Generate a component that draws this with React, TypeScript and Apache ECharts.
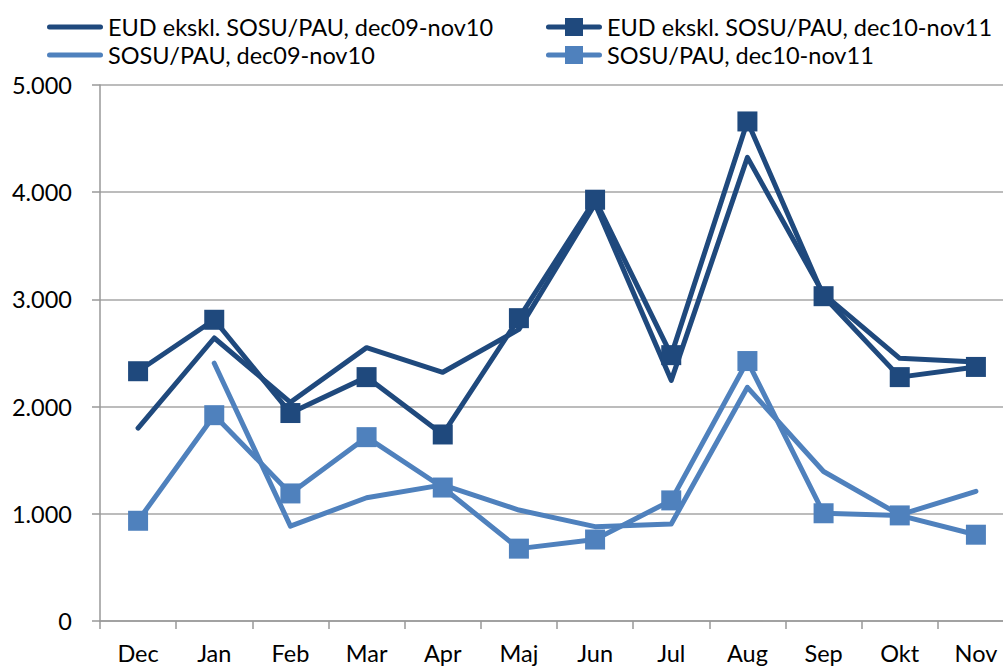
import React, { useEffect, useRef } from "react";
import * as echarts from "echarts";

const categories = ["Dec", "Jan", "Feb", "Mar", "Apr", "Maj", "Jun", "Jul", "Aug", "Sep", "Okt", "Nov"];
const seriesNames = [
  "EUD ekskl. SOSU/PAU, dec09-nov10",
  "EUD ekskl. SOSU/PAU, dec10-nov11",
  "SOSU/PAU, dec09-nov10",
  "SOSU/PAU, dec10-nov11",
];
const eud0910 = [1800, 2640, 2040, 2550, 2320, 2720, 3890, 2245, 4325, 3050, 2450, 2415];
const eud1011 = [2330, 2810, 1940, 2275, 1740, 2825, 3930, 2480, 4660, 3030, 2275, 2370];
const sosu0910: (number | string)[] = ["-", 2405, 885, 1150, 1270, 1035, 880, 905, 2180, 1395, 990, 1210];
const sosu1011 = [935, 1920, 1190, 1715, 1245, 675, 760, 1125, 2425, 1005, 985, 805];
const yMin = 0;
const yMax = 5000;
const yStep = 1000;

const DARK = "#1F497D";
const LIGHT = "#4F81BD";
const FONT = "Lato, 'Open Sans', sans-serif";

const LINE_ICON = "path://M2.5,0L53.5,0A2.5,2.5,0,0,1,53.5,5L2.5,5A2.5,2.5,0,0,1,2.5,0Z";
const MARK_ICON =
  "path://M2.5,6.5L19,6.5L19,0L37,0L37,6.5L53.5,6.5A2.5,2.5,0,0,1,53.5,11.5L37,11.5L37,18L19,18L19,11.5L2.5,11.5A2.5,2.5,0,0,1,2.5,6.5Z";

function fmt(v: number): string {
  return String(Math.round(v)).replace(/\B(?=(\d{3})+(?!\d))/g, ".");
}

export default function App() {
  const ref = useRef<HTMLDivElement>(null);
  useEffect(() => {
    if (!ref.current) return;
    const chart = echarts.init(ref.current, undefined, { renderer: "svg" });
    const textStyle = { fontFamily: FONT, fontSize: 23.5, color: "#000", lineHeight: 26 };
    const dataSets = [eud0910, eud1011, sosu0910, sosu1011];
    const colors = [DARK, DARK, LIGHT, LIGHT];
    const marks = [false, true, false, true];
    const lefts = [47, 546, 47, 546];
    const centers = [27, 27, 55, 55];
    chart.setOption({
      animation: false,
      backgroundColor: "#fff",
      textStyle: { fontFamily: FONT },
      legend: seriesNames.map((n, i) => ({
        left: lefts[i],
        top: centers[i] - 13,
        padding: 0,
        itemGap: 0,
        itemWidth: 56,
        itemHeight: marks[i] ? 18 : 5,
        textStyle,
        data: [{ name: n, icon: marks[i] ? MARK_ICON : LINE_ICON, itemStyle: { color: colors[i] } }],
      })),
      grid: { left: 100, top: 85, width: 914, height: 536, containLabel: false },
      xAxis: {
        type: "category",
        data: categories,
        boundaryGap: true,
        axisLine: { lineStyle: { color: "#999", width: 1.5 } },
        axisTick: { show: true, alignWithLabel: false, length: 8, lineStyle: { color: "#999", width: 1.5 } },
        axisLabel: { fontFamily: FONT, fontSize: 23.5, color: "#000", margin: 20, interval: 0 },
        splitLine: { show: false },
      },
      yAxis: {
        type: "value",
        min: yMin,
        max: yMax,
        interval: yStep,
        axisLine: { show: true, lineStyle: { color: "#999", width: 1.5 } },
        axisTick: { show: true, length: 8, lineStyle: { color: "#999", width: 1.5 } },
        axisLabel: { fontFamily: FONT, fontSize: 23.5, color: "#000", margin: 28, formatter: (v: number) => fmt(v) },
        splitLine: { show: true, lineStyle: { color: "#A6A6A6", width: 1.5 } },
      },
      series: dataSets.map((d, i) => ({
        name: seriesNames[i],
        type: "line",
        data: d,
        color: colors[i],
        symbol: marks[i] ? "rect" : "none",
        symbolSize: 20,
        showSymbol: marks[i],
        lineStyle: { color: colors[i], width: 5, join: "round", cap: "round" },
        itemStyle: { color: colors[i] },
        connectNulls: false,
      })),
    });
    return () => chart.dispose();
  }, []);
  return (
    <div
      ref={ref}
      style={{ position: "fixed", left: 0, top: 0, width: 1024, height: 666, background: "#fff" }}
    />
  );
}
